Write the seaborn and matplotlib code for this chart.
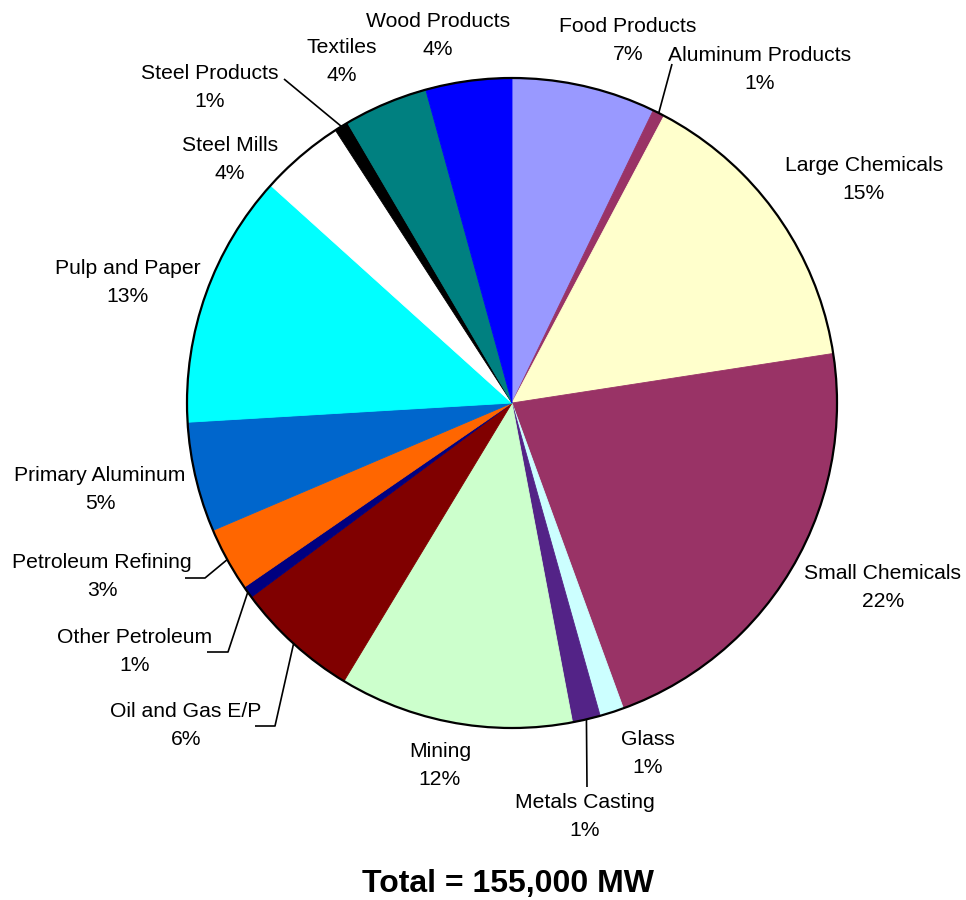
import matplotlib
matplotlib.use("Agg")
import matplotlib.pyplot as plt
import seaborn as sns
import numpy as np
from matplotlib.patches import Circle

# ---------------- data ----------------
categories = ["Food Products", "Aluminum Products", "Large Chemicals", "Small Chemicals",
              "Glass", "Metals Casting", "Mining", "Oil and Gas E/P", "Other Petroleum",
              "Petroleum Refining", "Primary Aluminum", "Pulp and Paper", "Steel Mills",
              "Steel Products", "Textiles", "Wood Products"]
shares = [7.2, 0.6, 14.9, 22.0, 1.2, 1.4, 11.7, 6.2, 0.6, 3.2, 5.5, 12.7, 4.2, 0.7, 4.2, 4.3]
colors = ["#9999FF", "#993366", "#FFFFCC", "#993366", "#CCFFFF", "#532387", "#CCFFCC",
          "#800000", "#000080", "#FF6600", "#0066CC", "#00FFFF", "#FFFFFF", "#000000",
          "#008080", "#0000FF"]
total_text = "Total = 155,000 MW"

# ---------------- layout (pixel coords, y measured from top) ----------------
W, H = 966, 900
CX, CY, R = 512, 403, 325
label_pos = {  # centre of the two-line label block
    "Food Products": (628, 38), "Aluminum Products": (760, 67),
    "Large Chemicals": (864, 177), "Small Chemicals": (883, 585),
    "Glass": (648, 751), "Metals Casting": (585, 814), "Mining": (440, 763),
    "Oil and Gas E/P": (186, 723), "Other Petroleum": (135, 649),
    "Petroleum Refining": (102, 574), "Primary Aluminum": (100, 487),
    "Pulp and Paper": (128, 280), "Steel Mills": (230, 157),
    "Steel Products": (210, 85), "Textiles": (342, 59), "Wood Products": (438, 33),
}
leaders = {  # waypoints after the point on the pie edge
    "Aluminum Products": [(672, 64)],
    "Steel Products": [(284, 79)],
    "Petroleum Refining": [(205, 578), (185, 578)],
    "Other Petroleum": [(228, 652), (207, 652)],
    "Oil and Gas E/P": [(275, 726), (255, 726)],
    "Metals Casting": [(587, 787)],
}

sns.set_theme(style="white")
plt.rcParams["font.family"] = ["Liberation Sans", "DejaVu Sans"]

fig = plt.figure(figsize=(W / 100, H / 100), dpi=100)
ax = fig.add_axes([0, 0, 1, 1])
pal = sns.color_palette(colors)

Y = lambda y: H - y

wedges, _ = ax.pie(shares, colors=pal, startangle=90, counterclock=False,
                   center=(CX, Y(CY)), radius=R,
                   wedgeprops=dict(linewidth=0.6, antialiased=True))
for w, c in zip(wedges, pal):
    w.set_edgecolor(c)
ax.add_patch(Circle((CX, Y(CY)), R, fill=False, edgecolor="black", linewidth=1.6, zorder=5))

tot = float(sum(shares))
cum = np.cumsum(shares)
for name, v, c_end in zip(categories, shares, cum):
    pct = int(round(v / tot * 100))
    lx, ly = label_pos[name]
    ax.text(lx, Y(ly - 6), name, ha="center", va="baseline", fontsize=15.2, color="black")
    ax.text(lx, Y(ly + 22), f"{pct}%", ha="center", va="baseline", fontsize=15.2, color="black")
    if name in leaders:
        theta = np.deg2rad(360.0 * (c_end - v / 2) / tot)
        px = CX + R * np.sin(theta)
        py = CY - R * np.cos(theta)
        pts = [(px, py)] + leaders[name]
        ax.plot([p[0] for p in pts], [Y(p[1]) for p in pts], color="black", lw=1.2,
                zorder=6, solid_capstyle="butt")

ax.text(508, Y(892), total_text, ha="center", va="baseline", fontsize=23,
        fontweight="bold", color="black")

ax.set_xlim(0, W)
ax.set_ylim(0, H)
ax.set_aspect("auto")
ax.axis("off")
fig.savefig("out.png", dpi=100, facecolor="white")
